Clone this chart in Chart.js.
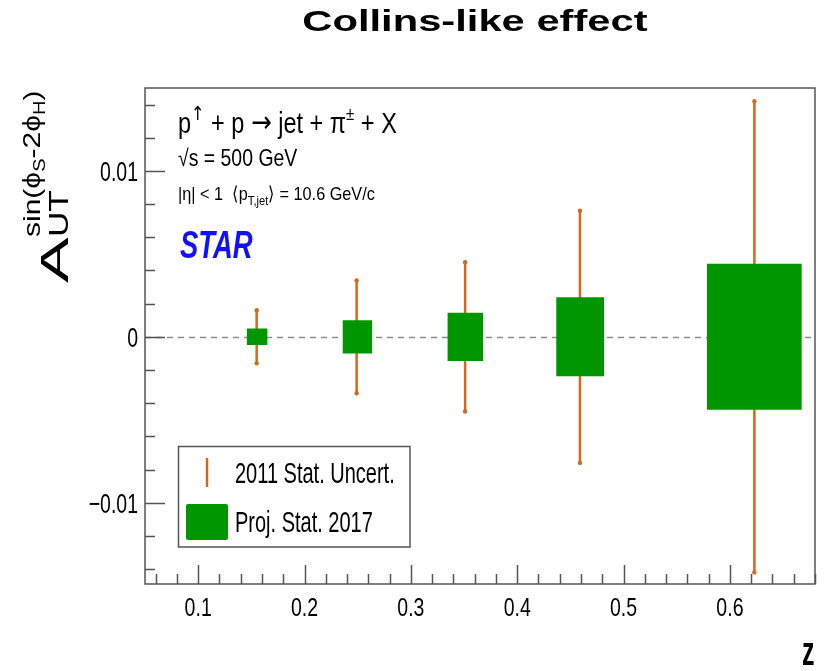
<!DOCTYPE html>
<html>
<head>
<meta charset="utf-8">
<title>Collins-like effect</title>
<script src="https://cdn.jsdelivr.net/npm/chart.js"></script>
<style>
  body { margin: 0; background: #ffffff; overflow: hidden; }
  #wrap { width: 825px; height: 671px; position: relative; }
</style>
</head>
<body>
<div id="wrap"><canvas id="collinsChart"></canvas></div>
<script>
// z bins (centre of the 2011 error bar) and 2011 stat. uncertainty
var zBins = [0.155, 0.249, 0.351, 0.459, 0.623];
var err2011 = [0.0016, 0.0034, 0.0045, 0.0076, 0.0142];

// 2017 projection boxes: z edges and half height
var boxLow = [0.1456, 0.2357, 0.3343, 0.4366, 0.5784];
var boxHigh = [0.1653, 0.2638, 0.3681, 0.4817, 0.6676];
var proj2017 = [0.0005, 0.0010, 0.00145, 0.00238, 0.0044];

// axis ticks
var xTicks = [0.1, 0.2, 0.3, 0.4, 0.5, 0.6];
var xTickLabels = ['0.1', '0.2', '0.3', '0.4', '0.5', '0.6'];
var yTicks = [-0.01, 0, 0.01];
var yTickLabels = ['\u22120.01', '0', '0.01'];

var orange = '#d2691e';
var green = '#009600';
var frameColor = '#555555';
var FONT = "'Liberation Sans', Arial, Helvetica, sans-serif";
var SYMB = "'DejaVu Sans', sans-serif";

function drawText(ctx, str, x, y, size, opt) {
  opt = opt || {};
  ctx.save();
  ctx.translate(x, y);
  ctx.scale(opt.sx || 1, opt.sy || 1);
  ctx.font = (opt.style || '') + ' ' + size + 'px ' + FONT;
  ctx.fillStyle = opt.color || '#000000';
  ctx.textAlign = opt.align || 'left';
  ctx.textBaseline = 'alphabetic';
  ctx.fillText(str, 0, 0);
  ctx.restore();
}

// pieces of text with their own size and baseline shift, drawn one after another
function drawRich(ctx, x, y, parts, sx, sy) {
  ctx.save();
  ctx.translate(x, y);
  ctx.scale(sx, sy);
  ctx.fillStyle = '#000000';
  ctx.textBaseline = 'alphabetic';
  var pos = 0;
  parts.forEach(function (p) {
    ctx.font = (p.style || '') + ' ' + p.size + 'px ' + (p.fam || FONT);
    ctx.fillText(p.t, pos, p.dy || 0);
    pos += ctx.measureText(p.t).width;
  });
  ctx.restore();
}

var boxDatasets = zBins.map(function (z, i) {
  return {
    label: 'Proj. Stat. 2017',
    data: [{ x: boxLow[i], y: proj2017[i] }, { x: boxHigh[i], y: proj2017[i] }],
    fill: { value: -proj2017[i] },
    backgroundColor: green,
    borderColor: 'rgba(0,0,0,0)',
    borderWidth: 1,
    pointRadius: 0
  };
});

var errData = [];
zBins.forEach(function (z, i) {
  errData.push({ x: z, y: -err2011[i] });
  errData.push({ x: z, y: err2011[i] });
  errData.push({ x: z, y: null });
});

var rootPlugin = {
  id: 'rootStyle',
  beforeDatasetsDraw: function (chart) {
    var ctx = chart.ctx;
    var a = chart.chartArea;
    var y0 = Math.round(chart.scales.y.getPixelForValue(0)) + 0.5;
    ctx.save();
    ctx.strokeStyle = '#8c8c8c';
    ctx.lineWidth = 1.5;
    ctx.setLineDash([6, 5]);
    ctx.beginPath();
    ctx.moveTo(a.left, y0);
    ctx.lineTo(a.right, y0);
    ctx.stroke();
    ctx.restore();
  },
  afterDraw: function (chart) {
    var ctx = chart.ctx;
    var a = chart.chartArea;
    var xs = chart.scales.x;
    var ys = chart.scales.y;
    var i, v, p;

    ctx.save();
    ctx.strokeStyle = frameColor;
    ctx.lineWidth = 1.5;

    // ticks inside the frame, ROOT style
    ctx.beginPath();
    for (i = -7; i <= 7; i++) {
      v = i * 0.002;
      p = Math.round(ys.getPixelForValue(v)) + 0.5;
      var len = (i % 5 === 0) ? 20 : 10;
      ctx.moveTo(a.left, p);
      ctx.lineTo(a.left + len, p);
    }
    for (i = 3; i <= 34; i++) {
      v = i * 0.02;
      p = Math.round(xs.getPixelForValue(v)) + 0.5;
      var lenx = (i % 5 === 0) ? 19 : 10;
      ctx.moveTo(p, a.bottom);
      ctx.lineTo(p, a.bottom - lenx);
    }
    ctx.stroke();

    // frame
    ctx.strokeRect(a.left, a.top, a.right - a.left, a.bottom - a.top);
    ctx.restore();

    // tick labels
    yTicks.forEach(function (t, k) {
      drawText(ctx, yTickLabels[k], 138, ys.getPixelForValue(t) + 10, 19.5, { align: 'right', sy: 1.43 });
    });
    xTicks.forEach(function (t, k) {
      drawText(ctx, xTickLabels[k], xs.getPixelForValue(t), 616, 19.5, { align: 'center', sy: 1.36 });
    });

    // axis titles
    drawText(ctx, 'z', 802, 665, 25, { style: 'bold', sy: 1.6 });

    ctx.save();
    ctx.translate(68, 283);
    ctx.rotate(-Math.PI / 2);
    drawText(ctx, 'A', 0, 0, 38, { sx: 1.8 });
    drawText(ctx, 'UT', 46, 0, 27, { sx: 1.3 });
    drawRich(ctx, 46, -28, [
      { t: 'sin(\u03d5', size: 24 },
      { t: 'S', size: 16, dy: 5 },
      { t: '-2\u03d5', size: 24 },
      { t: 'H', size: 16, dy: 5 },
      { t: ')', size: 24 }
    ], 1.25, 1);
    ctx.restore();

    // title
    drawText(ctx, 'Collins-like effect', 475, 31, 30, { style: 'bold', align: 'center', sx: 1.39 });

    // physics labels
    drawRich(ctx, 178, 133, [
      { t: 'p', size: 22 },
      { t: '\u2191', size: 15, dy: -10, fam: SYMB },
      { t: ' + p ', size: 22 },
      { t: '\u2192', size: 23, fam: SYMB, dy: -1 },
      { t: ' jet + \u03c0', size: 22 },
      { t: '\u00b1', size: 14, dy: -10 },
      { t: ' + X', size: 22 }
    ], 1.07, 1.3);
    drawRich(ctx, 178, 166, [
      { t: '\u221as = 500 GeV', size: 18 }
    ], 1.08, 1.3);
    drawRich(ctx, 178, 200, [
      { t: '|\u03b7| < 1  \u27e8p', size: 14.5 },
      { t: 'T,jet', size: 10, dy: 4 },
      { t: '\u27e9 = 10.6 GeV/c', size: 14.5 }
    ], 1.12, 1.3);
    drawText(ctx, 'STAR', 180, 258, 28, { style: 'italic bold', color: '#1010ff', sx: 0.98, sy: 1.4 });

    // legend
    ctx.save();
    ctx.fillStyle = '#ffffff';
    ctx.fillRect(178.5, 446.5, 231.5, 100.5);
    ctx.strokeStyle = frameColor;
    ctx.lineWidth = 1.5;
    ctx.strokeRect(178.5, 446.5, 231.5, 100.5);
    ctx.strokeStyle = orange;
    ctx.lineWidth = 2.5;
    ctx.beginPath();
    ctx.moveTo(207, 458);
    ctx.lineTo(207, 487);
    ctx.stroke();
    ctx.fillStyle = green;
    ctx.beginPath();
    ctx.roundRect(186, 504, 42, 36, 2);
    ctx.fill();
    ctx.restore();
    drawText(ctx, '2011 Stat. Uncert.', 235, 483, 20, { sy: 1.5 });
    drawText(ctx, 'Proj. Stat. 2017', 235, 532, 20, { sy: 1.5 });
  }
};

var ctx = document.getElementById('collinsChart').getContext('2d');
var collinsChart = new Chart(ctx, {
  type: 'line',
  data: {
    datasets: boxDatasets.concat([{
      label: '2011 Stat. Uncert.',
      data: errData,
      borderColor: orange,
      borderWidth: 2.5,
      pointRadius: 2.2,
      pointBackgroundColor: orange,
      pointBorderWidth: 0,
      fill: false,
      spanGaps: false
    }])
  },
  options: {
    responsive: true,
    maintainAspectRatio: false,
    animation: false,
    layout: { padding: { left: 145, top: 88, right: 10, bottom: 87 } },
    plugins: {
      legend: { display: false },
      tooltip: { enabled: false },
      title: { display: false }
    },
    scales: {
      x: { type: 'linear', min: 0.05, max: 0.68, display: false },
      y: { type: 'linear', min: -0.0149, max: 0.0150, display: false }
    }
  },
  plugins: [rootPlugin]
});
</script>
</body>
</html>
